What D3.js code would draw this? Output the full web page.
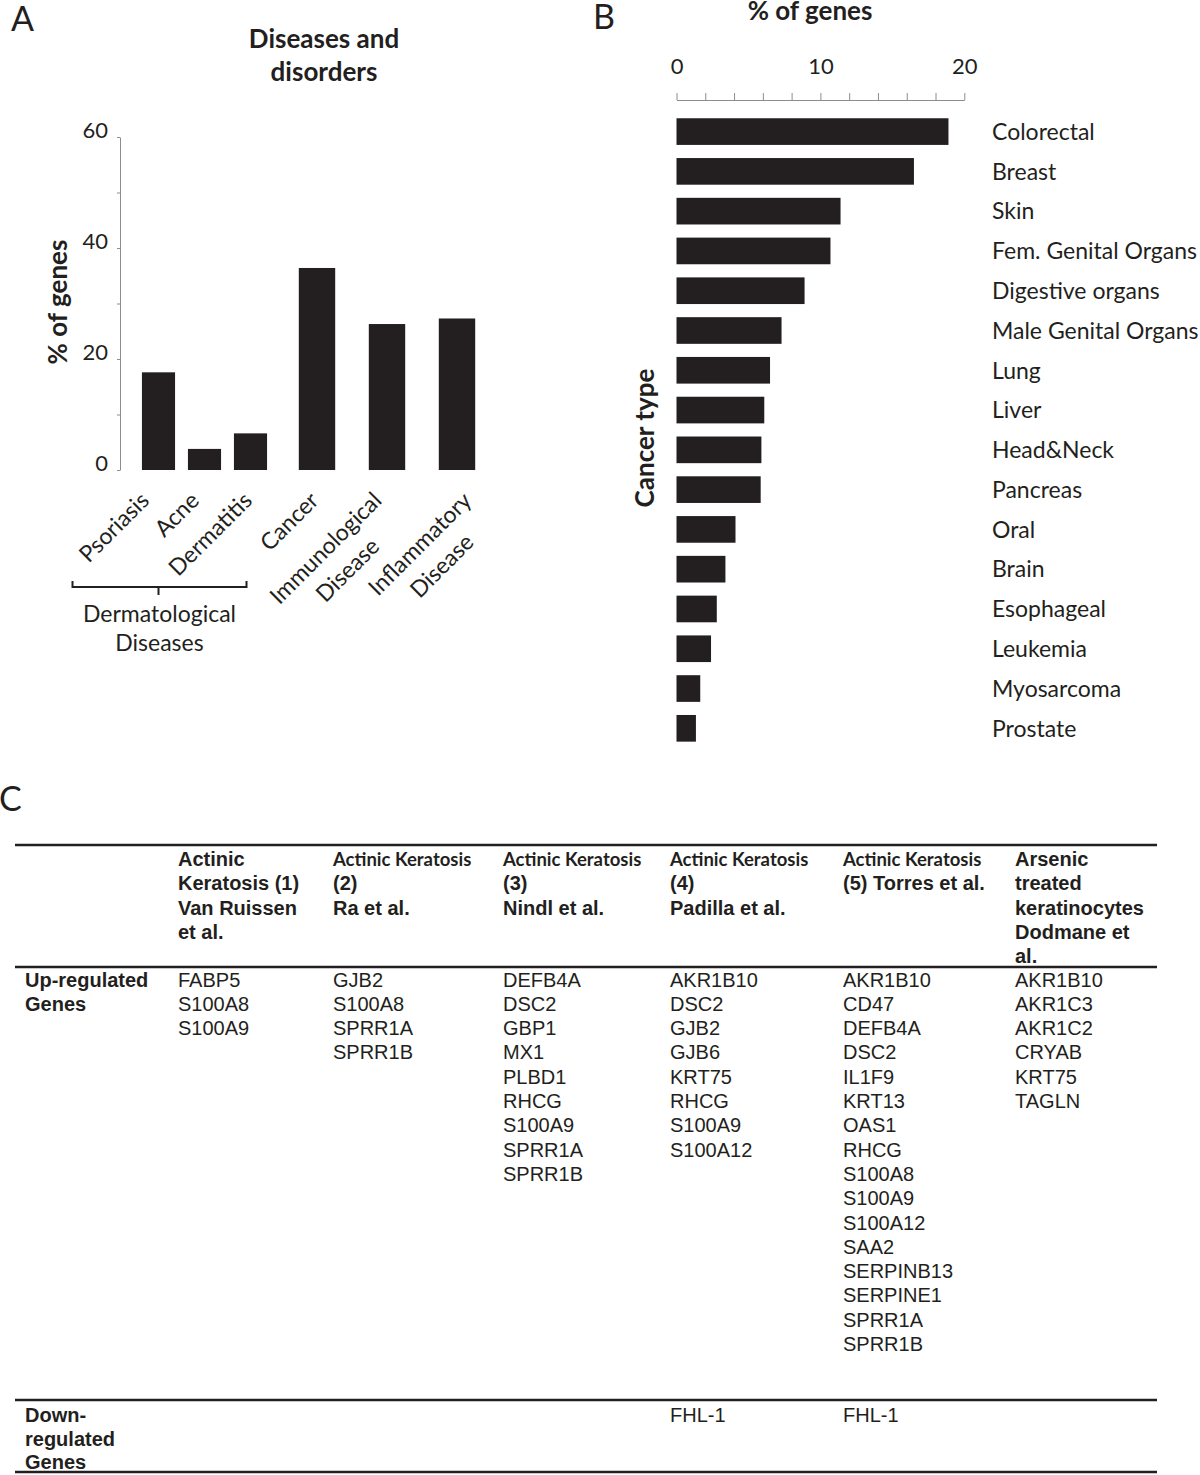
<!DOCTYPE html>
<html lang="en">
<head>
    <meta charset="UTF-8">
    <title>Gene sets</title>
    <style>
        body { margin: 0; background: #fff; }
        svg { display: block; }
    </style>
</head>
<body>
<svg id="svgId"></svg>
<script src="https://cdnjs.cloudflare.com/ajax/libs/d3/7.8.5/d3.min.js"></script>
<script>

    // ---- Panel A data: diseases and disorders
    const dermCats = ['Psoriasis', 'Acne', 'Dermatitis']
    const dermVals = [17.6, 3.8, 6.6]
    const otherCats = ['Cancer', 'Immunological Disease', 'Inflammatory Disease']
    const otherVals = [36.4, 26.3, 27.3]
    const yTicksA = [0, 10, 20, 30, 40, 50, 60]
    const yLabelsA = [0, 20, 40, 60]

    // ---- Panel B data: cancer type
    const cancerTypes = ['Colorectal', 'Breast', 'Skin', 'Fem. Genital Organs', 'Digestive organs',
        'Male Genital Organs', 'Lung', 'Liver', 'Head&Neck', 'Pancreas', 'Oral', 'Brain',
        'Esophageal', 'Leukemia', 'Myosarcoma', 'Prostate']
    const cancerVals = [18.9, 16.5, 11.4, 10.7, 8.9, 7.3, 6.5, 6.1, 5.9, 5.85, 4.1, 3.4, 2.8, 2.4, 1.65, 1.35]
    const xTicksB = [0, 2, 4, 6, 8, 10, 12, 14, 16, 18, 20]
    const xLabelsB = [0, 10, 20]

    // ---- Panel C data: gene table
    const studyHeaders = [
        ['Actinic', 'Keratosis (1)', 'Van Ruissen', 'et al.'],
        ['Actinic Keratosis', '(2)', 'Ra et al.'],
        ['Actinic Keratosis', '(3)', 'Nindl et al.'],
        ['Actinic Keratosis', '(4)', 'Padilla et al.'],
        ['Actinic Keratosis', '(5) Torres et al.'],
        ['Arsenic', 'treated', 'keratinocytes', 'Dodmane et', 'al.']
    ]
    const upGenes = [
        ['FABP5', 'S100A8', 'S100A9'],
        ['GJB2', 'S100A8', 'SPRR1A', 'SPRR1B'],
        ['DEFB4A', 'DSC2', 'GBP1', 'MX1', 'PLBD1', 'RHCG', 'S100A9', 'SPRR1A', 'SPRR1B'],
        ['AKR1B10', 'DSC2', 'GJB2', 'GJB6', 'KRT75', 'RHCG', 'S100A9', 'S100A12'],
        ['AKR1B10', 'CD47', 'DEFB4A', 'DSC2', 'IL1F9', 'KRT13', 'OAS1', 'RHCG', 'S100A8', 'S100A9',
            'S100A12', 'SAA2', 'SERPINB13', 'SERPINE1', 'SPRR1A', 'SPRR1B'],
        ['AKR1B10', 'AKR1C3', 'AKR1C2', 'CRYAB', 'KRT75', 'TAGLN']
    ]
    const downGenes = [[], [], [], ['FHL-1'], ['FHL-1'], []]
    const rowLabels = [['Up-regulated', 'Genes'], ['Down-', 'regulated', 'Genes']]

    // ---- layout
    const svgWidth = 1200
    const svgHeight = 1475
    const ink = '#231f20'
    const axisGrey = '#8c8c8c'
    const chartFont = 'Lato, "Open Sans", sans-serif'
    const tableFont = '"Liberation Sans", Arial, Helvetica, sans-serif'
    // horizontal nudge of each rotated category label end, from its bar centre (px)
    const labelNudgeA = [-8, -4, 3, 3, -4, 16]

    const svg = d3.select('#svgId')
        .attr('width', svgWidth)
        .attr('height', svgHeight)
        .style('background', '#fff')

    function styleText(sel, size, weight) {
        return sel.attr('font-family', chartFont)
            .attr('font-size', size)
            .attr('font-weight', weight || 'normal')
            .attr('fill', ink)
    }

    // panel letters
    styleText(svg.append('text').attr('x', 11).attr('y', 31).text('A'), 34)
    styleText(svg.append('text').attr('x', 593).attr('y', 29).text('B'), 34)
    styleText(svg.append('text').attr('x', -1).attr('y', 811).text('C'), 34)

    // ================= Panel A =================
    const gA = svg.append('g')
    const yA = d3.scaleLinear().domain([0, 60]).range([470, 137])
    const xDerm = d3.scaleBand().domain(dermCats).range([135.5, 273.5]).paddingInner(0.28).paddingOuter(0.14)
    const xOther = d3.scaleBand().domain(otherCats).range([282, 492]).paddingInner(0.48).paddingOuter(0.24)

    gA.append('g')
        .attr('transform', 'translate(120,0)')
        .call(d3.axisLeft(yA).tickValues(yTicksA).tickSize(3).tickSizeOuter(0).tickPadding(9)
            .tickFormat(d => yLabelsA.includes(d) ? d : ''))
        .call(g => {
            g.select('.domain').attr('stroke', axisGrey)
            g.selectAll('.tick line').attr('stroke', axisGrey)
            styleText(g.selectAll('.tick text'), 22).attr('dy', '0.02em')
        })

    const barsA = dermCats.map((c, i) => ({cat: c, val: dermVals[i], x: xDerm}))
        .concat(otherCats.map((c, i) => ({cat: c, val: otherVals[i], x: xOther})))

    gA.selectAll('rect.barA')
        .data(barsA).enter()
        .append('rect')
        .attr('class', 'barA')
        .attr('x', d => d.x(d.cat))
        .attr('width', d => d.x.bandwidth())
        .attr('y', d => yA(d.val))
        .attr('height', d => yA(0) - yA(d.val))
        .attr('fill', ink)

    // rotated category labels, lines centred on each other
    barsA.forEach((d, k) => {
        const cx = d.x(d.cat) + d.x.bandwidth() / 2
        const g = gA.append('g').attr('transform', `translate(${cx + labelNudgeA[k]},502) rotate(-45)`)
        const t = styleText(g.append('text'), 23).attr('text-anchor', 'middle')
        d.cat.split(' ').forEach((s, i) => t.append('tspan').attr('x', 0).attr('y', i * 31).text(s))
        const w = d3.max(t.selectAll('tspan').nodes(), n => n.getComputedTextLength())
        t.attr('transform', `translate(${-w / 2},0)`)
    })

    // bracket under the dermatological group
    const dermMid = (xDerm(dermCats[0]) + xDerm(dermCats[2]) + xDerm.bandwidth()) / 2 - 46
    gA.append('path')
        .attr('d', `M${dermMid - 86},581 V587 H${dermMid + 88} V581 M${dermMid},587 V595`)
        .attr('fill', 'none')
        .attr('stroke', ink)
        .attr('stroke-width', 2)
    styleText(gA.append('text').attr('x', dermMid + 1).attr('y', 622), 23)
        .attr('text-anchor', 'middle').text('Dermatological')
    styleText(gA.append('text').attr('x', dermMid + 1).attr('y', 651), 23)
        .attr('text-anchor', 'middle').text('Diseases')

    // title and axis label
    styleText(gA.append('text').attr('x', 324).attr('y', 48), 26, 'bold')
        .attr('text-anchor', 'middle').text('Diseases and')
    styleText(gA.append('text').attr('x', 324).attr('y', 81), 26, 'bold')
        .attr('text-anchor', 'middle').text('disorders')
    styleText(gA.append('text').attr('transform', 'translate(67,302) rotate(-90)'), 26, 'bold')
        .attr('text-anchor', 'middle').text('% of genes')

    // ================= Panel B =================
    const gB = svg.append('g')
    const xB = d3.scaleLinear().domain([0, 20]).range([676.5, 964.3])
    const yB = d3.scaleBand().domain(cancerTypes).range([111.7, 748.2]).paddingInner(0.33).paddingOuter(0.165)

    gB.append('g')
        .attr('transform', 'translate(0,100)')
        .call(d3.axisTop(xB).tickValues(xTicksB).tickSize(7).tickSizeOuter(0).tickPadding(19)
            .tickFormat(d => xLabelsB.includes(d) ? d : ''))
        .call(g => {
            g.select('.domain').attr('stroke', axisGrey)
            g.selectAll('.tick line').attr('stroke', axisGrey)
            styleText(g.selectAll('.tick text'), 22)
        })

    gB.selectAll('rect.barB')
        .data(cancerTypes).enter()
        .append('rect')
        .attr('class', 'barB')
        .attr('x', xB(0))
        .attr('y', d => yB(d))
        .attr('width', (d, i) => xB(cancerVals[i]) - xB(0))
        .attr('height', yB.bandwidth())
        .attr('fill', ink)

    styleText(gB.selectAll('text.catB')
        .data(cancerTypes).enter()
        .append('text')
        .attr('class', 'catB')
        .attr('x', 992)
        .attr('y', d => yB(d) + yB.bandwidth() / 2)
        .attr('dy', '0.36em')
        .text(d => d), 23)

    styleText(gB.append('text').attr('x', 810).attr('y', 20), 26, 'bold')
        .attr('text-anchor', 'middle').text('% of genes')
    styleText(gB.append('text').attr('transform', 'translate(654,438) rotate(-90)'), 26, 'bold')
        .attr('text-anchor', 'middle').text('Cancer type')

    // ================= Panel C =================
    const gC = svg.append('g')
    const colLeft = [25, 178, 333, 503, 670, 843, 1015]
    const headY = d3.scaleLinear().domain([0, 1]).range([866, 890.3])
    const upY = d3.scaleLinear().domain([0, 1]).range([986.5, 1010.8])
    const downY = d3.scaleLinear().domain([0, 1]).range([1422, 1445.5])

    // horizontal rules
    gC.selectAll('line.rule')
        .data([845, 967, 1400, 1472]).enter()
        .append('line')
        .attr('x1', 15).attr('x2', 1157)
        .attr('y1', d => d).attr('y2', d => d)
        .attr('stroke', ink)
        .attr('stroke-width', 2.5)

    function cellText(x, y, s, bold) {
        return gC.append('text')
            .attr('x', x).attr('y', y)
            .attr('font-family', tableFont)
            .attr('font-size', 20)
            .attr('font-weight', bold ? 'bold' : 'normal')
            .attr('fill', ink)
            .text(s)
    }

    studyHeaders.forEach((lines, c) => {
        lines.forEach((s, i) => {
            const t = cellText(colLeft[c + 1], headY(i), s, true)
            if (s === 'Actinic Keratosis') t.attr('font-family', chartFont).attr('font-size', 18.5)
        })
    })

    rowLabels[0].forEach((s, i) => cellText(colLeft[0], upY(i), s, true))
    rowLabels[1].forEach((s, i) => cellText(colLeft[0], downY(i), s, true))

    upGenes.forEach((genes, c) => genes.forEach((s, i) => cellText(colLeft[c + 1], upY(i), s, false)))
    downGenes.forEach((genes, c) => genes.forEach((s, i) => cellText(colLeft[c + 1], downY(i), s, false)))

</script>
</body>
</html>
